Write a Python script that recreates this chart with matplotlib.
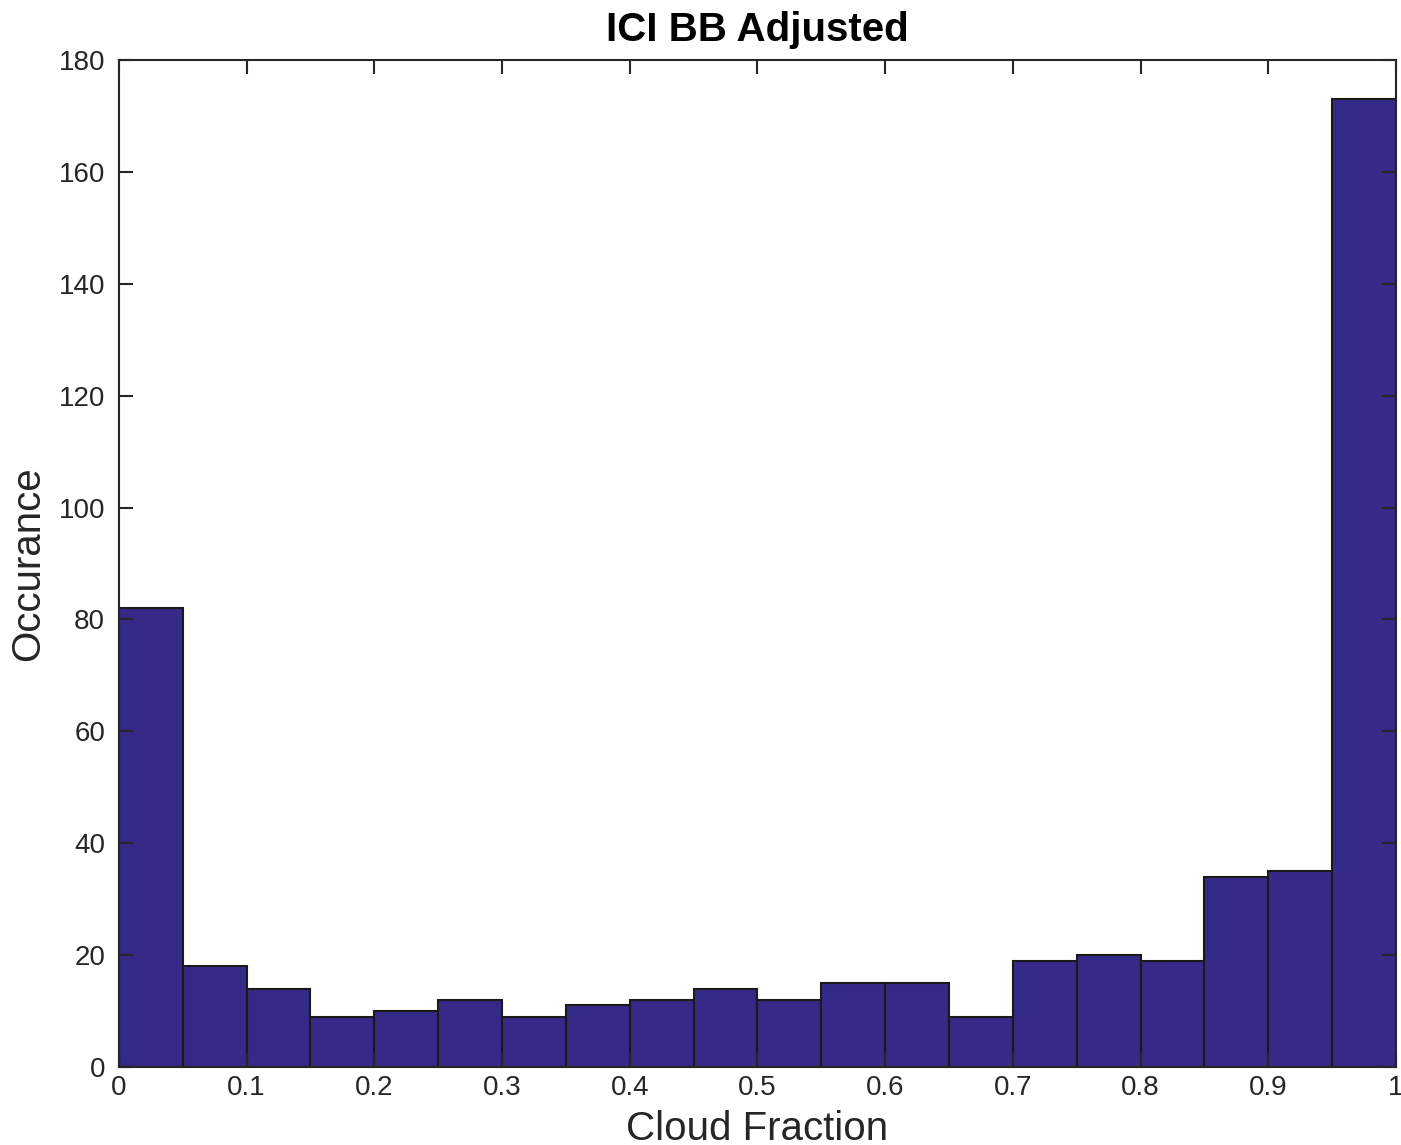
import matplotlib
matplotlib.use("Agg")
import matplotlib.pyplot as plt
import numpy as np

plt.rcParams['font.family'] = ['Liberation Sans', 'DejaVu Sans']

bin_edges = [round(i * 0.05, 2) for i in range(21)]
counts = [82, 18, 14, 9, 10, 12, 9, 11, 12, 14, 12, 15, 15, 9, 19, 20, 19, 34, 35, 173]
xticks = [0, 0.1, 0.2, 0.3, 0.4, 0.5, 0.6, 0.7, 0.8, 0.9, 1]
xticklabels = ['0', '0.1', '0.2', '0.3', '0.4', '0.5', '0.6', '0.7', '0.8', '0.9', '1']
yticks = [0, 20, 40, 60, 80, 100, 120, 140, 160, 180]

fig = plt.figure(figsize=(14.01, 11.45), dpi=100)
ax = fig.add_axes([0.0849, 0.0681, 0.9115, 0.8795])

lefts = bin_edges[:-1]
widths = np.diff(bin_edges)
ax.bar(lefts, counts, width=widths, align='edge', color='#352a87',
       edgecolor='#1a1a1a', linewidth=1.5)

ax.set_xlim(0, 1)
ax.set_ylim(0, 180)
ax.set_xticks(xticks)
ax.set_xticklabels(xticklabels)
ax.set_yticks(yticks)
ax.tick_params(direction='in', length=10, width=1.5, top=True, right=True,
               labelsize=20, colors='#262626')
ax.tick_params(axis='x', pad=6)
ax.tick_params(axis='y', pad=10)
for s in ax.spines.values():
    s.set_linewidth(1.5)
    s.set_color('#262626')

ax.set_xlabel('Cloud Fraction', fontsize=29, color='#262626', labelpad=6)
ax.set_ylabel('Occurance', fontsize=29, color='#262626', labelpad=8)
ax.set_title('ICI BB Adjusted', fontsize=29, fontweight='bold', pad=14)

fig.savefig('out.png', dpi=100)
